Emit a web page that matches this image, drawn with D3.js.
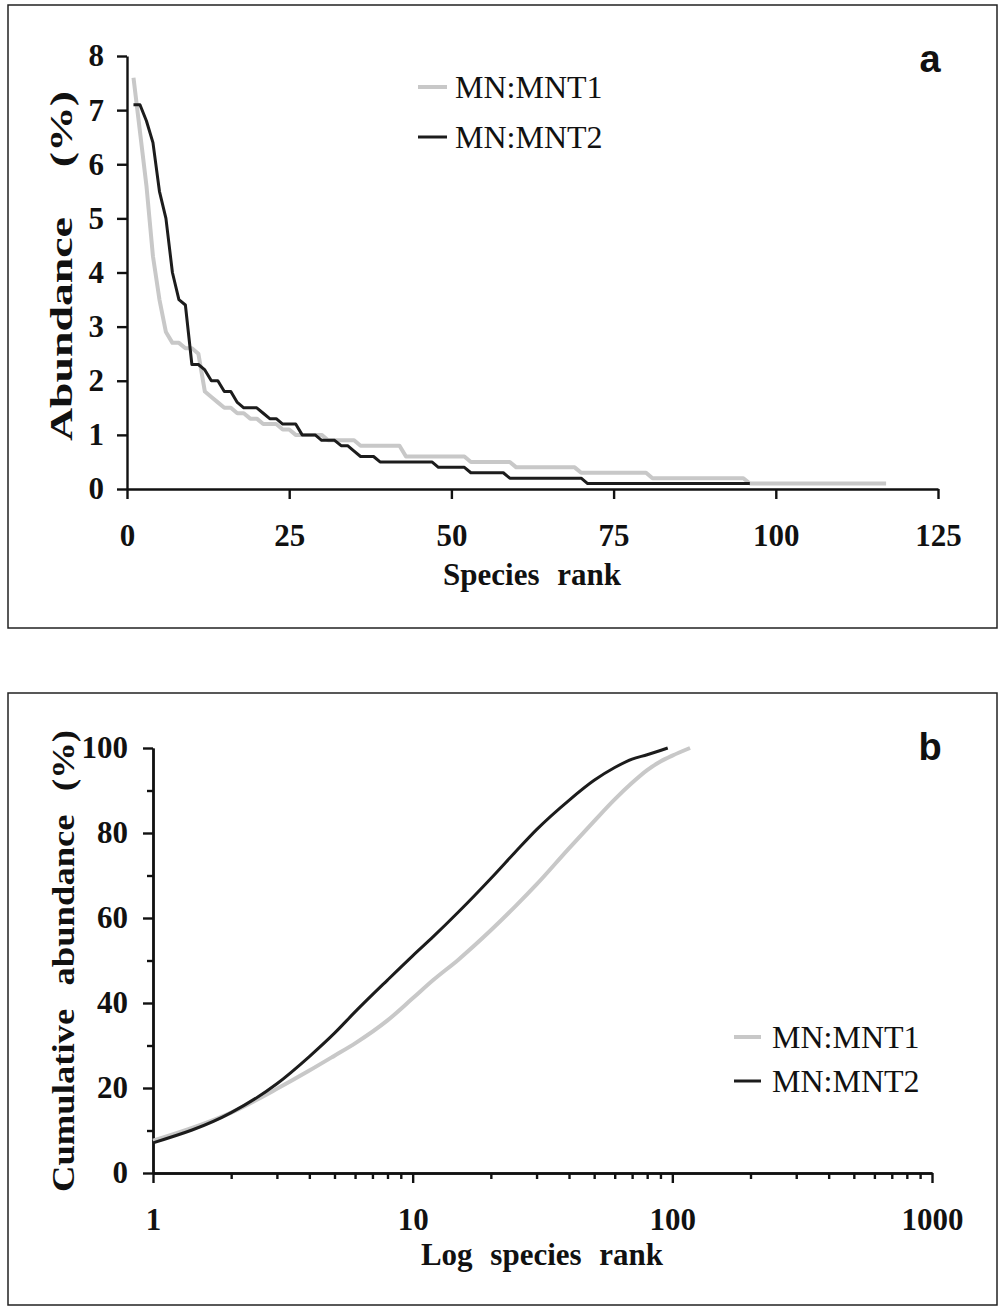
<!DOCTYPE html>
<html>
<head>
<meta charset="utf-8">
<script src="https://cdn.jsdelivr.net/npm/d3@7"></script>
<style>
  body { margin: 0; background: #fff; }
  svg { display: block; }
  .tick text { font-family: "Liberation Serif", "Times New Roman", serif; font-weight: bold; font-size: 31px; fill: #111; }
  .title { font-family: "Liberation Serif", "Times New Roman", serif; font-weight: bold; font-size: 31px; fill: #111; }
  .legend { font-family: "Liberation Serif", "Times New Roman", serif; font-size: 32px; fill: #111; }
  .panel { font-family: "Liberation Sans", Arial, sans-serif; font-weight: bold; font-size: 38px; fill: #111; }
</style>
</head>
<body>
<svg id="chart" width="1002" height="1312"></svg>
<script>
// abundance (%) by species rank
var mnt1 = [7.6, 6.6, 5.6, 4.3, 3.5, 2.9, 2.7, 2.7, 2.6, 2.6,
  2.5, 1.8, 1.7, 1.6, 1.5, 1.5, 1.4, 1.4, 1.3, 1.3,
  1.2, 1.2, 1.2, 1.1, 1.1, 1.0, 1.0, 1.0, 1.0, 1.0,
  0.9, 0.9, 0.9, 0.9, 0.9, 0.8, 0.8, 0.8, 0.8, 0.8,
  0.8, 0.8, 0.6, 0.6, 0.6, 0.6, 0.6, 0.6, 0.6, 0.6,
  0.6, 0.6, 0.5, 0.5, 0.5, 0.5, 0.5, 0.5, 0.5, 0.4,
  0.4, 0.4, 0.4, 0.4, 0.4, 0.4, 0.4, 0.4, 0.4, 0.3,
  0.3, 0.3, 0.3, 0.3, 0.3, 0.3, 0.3, 0.3, 0.3, 0.3,
  0.2, 0.2, 0.2, 0.2, 0.2, 0.2, 0.2, 0.2, 0.2, 0.2,
  0.2, 0.2, 0.2, 0.2, 0.2, 0.1, 0.1, 0.1, 0.1, 0.1,
  0.1, 0.1, 0.1, 0.1, 0.1, 0.1, 0.1, 0.1, 0.1, 0.1,
  0.1, 0.1, 0.1, 0.1, 0.1, 0.1, 0.1];
var mnt2 = [7.1, 7.1, 6.8, 6.4, 5.5, 5.0, 4.0, 3.5, 3.4, 2.3,
  2.3, 2.2, 2.0, 2.0, 1.8, 1.8, 1.6, 1.5, 1.5, 1.5,
  1.4, 1.3, 1.3, 1.2, 1.2, 1.2, 1.0, 1.0, 1.0, 0.9,
  0.9, 0.9, 0.8, 0.8, 0.7, 0.6, 0.6, 0.6, 0.5, 0.5,
  0.5, 0.5, 0.5, 0.5, 0.5, 0.5, 0.5, 0.4, 0.4, 0.4,
  0.4, 0.4, 0.3, 0.3, 0.3, 0.3, 0.3, 0.3, 0.2, 0.2,
  0.2, 0.2, 0.2, 0.2, 0.2, 0.2, 0.2, 0.2, 0.2, 0.2,
  0.1, 0.1, 0.1, 0.1, 0.1, 0.1, 0.1, 0.1, 0.1, 0.1,
  0.1, 0.1, 0.1, 0.1, 0.1, 0.1, 0.1, 0.1, 0.1, 0.1,
  0.1, 0.1, 0.1, 0.1, 0.1, 0.1];

// cumulative abundance (%) at selected ranks
var cumRanks1 = [1, 2, 3, 4, 5, 6, 8, 10, 12, 15, 20, 25, 30, 40, 50, 60, 70, 80, 90, 100, 117];
var cum1 = [7.6, 14.2, 19.8, 24.1, 27.6, 30.5, 35.9, 41.1, 45.4, 50.2, 57.1, 62.9, 67.9, 76.4, 82.8, 87.9, 91.8, 94.8, 96.8, 98.2, 100];
var cumRanks2 = [1, 2, 3, 4, 5, 6, 8, 10, 12, 15, 20, 25, 30, 40, 50, 60, 70, 80, 96];
var cum2 = [7.1, 14.2, 21.0, 27.4, 32.9, 37.9, 45.4, 51.1, 55.6, 61.4, 69.3, 75.7, 80.8, 87.7, 92.4, 95.4, 97.4, 98.4, 100];

var seriesNames = ["MN:MNT1", "MN:MNT2"];
var ticksA_x = [0, 25, 50, 75, 100, 125];
var ticksA_y = [0, 1, 2, 3, 4, 5, 6, 7, 8];
var ticksB_x = [1, 10, 100, 1000];
var ticksB_y = [0, 20, 40, 60, 80, 100];

var grey = "#c8c8c8", black = "#1c1c1c";
var svg = d3.select("#chart");

// panel frames
svg.append("rect").attr("x", 8).attr("y", 5).attr("width", 989).attr("height", 623)
  .attr("fill", "none").attr("stroke", "#222").attr("stroke-width", 1.5);
svg.append("rect").attr("x", 8).attr("y", 693).attr("width", 989).attr("height", 612)
  .attr("fill", "none").attr("stroke", "#222").attr("stroke-width", 1.5);

function styleAxis(g) {
  g.selectAll(".domain").attr("stroke", "#111").attr("stroke-width", 2.4);
  g.selectAll(".tick line").attr("stroke", "#111").attr("stroke-width", 2.4);
}

// ---- panel a ----
var xa = d3.scaleLinear().domain([0, 125]).range([127, 938]);
var ya = d3.scaleLinear().domain([0, 8]).range([489, 56]);

svg.append("g").attr("transform", "translate(0,489)")
  .call(d3.axisBottom(xa).tickValues(ticksA_x).tickSize(10).tickSizeOuter(0).tickPadding(25))
  .call(styleAxis);
svg.append("g").attr("transform", "translate(127,0)")
  .call(d3.axisLeft(ya).tickValues(ticksA_y).tickSize(10).tickSizeOuter(0).tickPadding(13))
  .call(styleAxis);

var lineA = d3.line().x(function (d, i) { return xa(i + 1); }).y(function (d) { return ya(d); });
svg.append("path").datum(mnt1).attr("d", lineA).attr("fill", "none")
  .attr("stroke", grey).attr("stroke-width", 4).attr("stroke-linejoin", "round");
svg.append("path").datum(mnt2).attr("d", lineA).attr("fill", "none")
  .attr("stroke", black).attr("stroke-width", 3).attr("stroke-linejoin", "round");

svg.append("text").attr("class", "title").attr("x", 532).attr("y", 585)
  .attr("text-anchor", "middle").attr("word-spacing", 10).text("Species rank");
svg.append("text").attr("class", "title")
  .attr("transform", "translate(72,266) rotate(-90)")
  .attr("text-anchor", "middle").attr("word-spacing", 26)
  .attr("textLength", 350).attr("lengthAdjust", "spacingAndGlyphs")
  .text("Abundance (%)");
svg.append("text").attr("class", "panel").attr("x", 930).attr("y", 72)
  .attr("text-anchor", "middle").text("a");

// legend a
[[grey, 4, 87], [black, 3, 137]].forEach(function (l, i) {
  svg.append("line").attr("x1", 418).attr("x2", 447).attr("y1", l[2]).attr("y2", l[2])
    .attr("stroke", l[0]).attr("stroke-width", l[1]);
  svg.append("text").attr("class", "legend").attr("x", 455).attr("y", l[2] + 11).text(seriesNames[i]);
});

// ---- panel b ----
var xb = d3.scaleLog().domain([1, 1000]).range([153, 932]);
var yb = d3.scaleLinear().domain([0, 100]).range([1173, 748]);

var minorX = [];
[1, 10, 100].forEach(function (dec) {
  for (var k = 2; k <= 9; k++) minorX.push(dec * k);
});
svg.append("g").attr("transform", "translate(0,1173)")
  .call(d3.axisBottom(xb).tickValues(minorX).tickSize(6).tickSizeOuter(0).tickFormat(""))
  .call(styleAxis);
svg.append("g").attr("transform", "translate(0,1173)")
  .call(d3.axisBottom(xb).tickValues(ticksB_x).tickSize(10).tickSizeOuter(0).tickPadding(25)
    .tickFormat(d3.format("d")))
  .call(styleAxis);
svg.append("g").attr("transform", "translate(153,0)")
  .call(d3.axisLeft(yb).tickValues([10, 30, 50, 70, 90]).tickSize(6).tickSizeOuter(0).tickFormat(""))
  .call(styleAxis);
svg.append("g").attr("transform", "translate(153,0)")
  .call(d3.axisLeft(yb).tickValues(ticksB_y).tickSize(10).tickSizeOuter(0).tickPadding(15))
  .call(styleAxis);

var lineB = d3.line().curve(d3.curveMonotoneX)
  .x(function (d) { return xb(d[0]); }).y(function (d) { return yb(d[1]); });
svg.append("path").datum(d3.zip(cumRanks1, cum1)).attr("d", lineB).attr("fill", "none")
  .attr("stroke", grey).attr("stroke-width", 4);
svg.append("path").datum(d3.zip(cumRanks2, cum2)).attr("d", lineB).attr("fill", "none")
  .attr("stroke", black).attr("stroke-width", 3);

svg.append("text").attr("class", "title").attr("x", 542).attr("y", 1265)
  .attr("text-anchor", "middle").attr("word-spacing", 10).text("Log species rank");
svg.append("text").attr("class", "title")
  .attr("transform", "translate(74,961) rotate(-90)")
  .attr("text-anchor", "middle").attr("word-spacing", 12)
  .attr("textLength", 462).attr("lengthAdjust", "spacingAndGlyphs")
  .text("Cumulative abundance (%)");
svg.append("text").attr("class", "panel").attr("x", 930).attr("y", 760)
  .attr("text-anchor", "middle").text("b");

// legend b
[[grey, 4, 1037], [black, 3, 1081]].forEach(function (l, i) {
  svg.append("line").attr("x1", 734).attr("x2", 761).attr("y1", l[2]).attr("y2", l[2])
    .attr("stroke", l[0]).attr("stroke-width", l[1]);
  svg.append("text").attr("class", "legend").attr("x", 772).attr("y", l[2] + 11).text(seriesNames[i]);
});
</script>
</body>
</html>
